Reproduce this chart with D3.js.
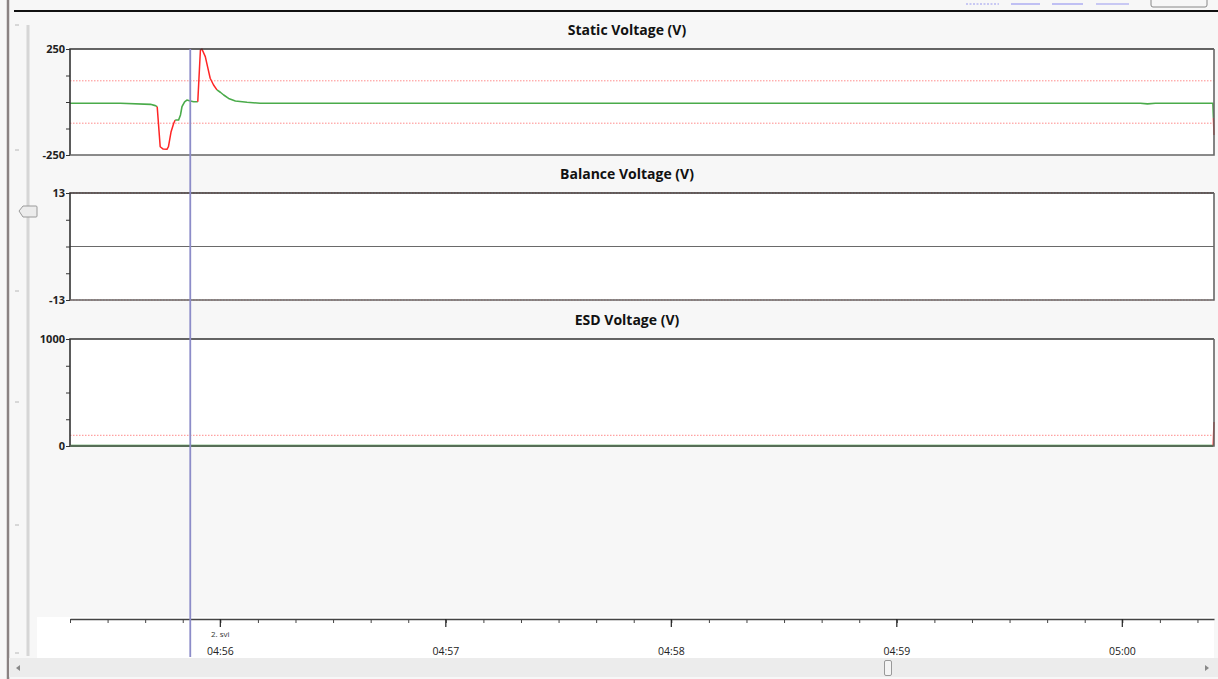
<!DOCTYPE html>
<html>
<head>
<meta charset="utf-8">
<script src="https://cdn.jsdelivr.net/npm/d3@7"></script>
<style>
  html, body { margin: 0; padding: 0; background: #f7f7f7; }
  svg { display: block; font-family: "Open Sans", "Noto Sans", sans-serif; }
</style>
</head>
<body>
<svg id="chart" width="1218" height="679"></svg>
<script>
// ---- data (seconds after 04:55:00) ----
const staticSeconds = [20, 33.4, 41.4, 42.7, 43.2, 44.0, 44.8, 45.8, 46.2, 46.9, 47.6, 48.0, 48.9, 49.4, 49.8,
  50.5, 51.1, 52.0, 52.9, 54.0, 54.7, 55.1, 56.0, 56.6, 57.3, 58.2, 59.1, 60, 60.9, 62.2, 64.0, 67.1, 70.6,
  120, 200, 260, 304.8, 306.7, 308.8, 324.1, 324.25, 324.4];
const staticValues = [-6, -6, -11, -17, -22, -211, -222, -223, -211, -140, -100, -85, -85, -61, -22,
  1, 9, 5, 1, 1, 245, 250, 214, 167, 112, 80, 57, 46, 33, 17, 5, -1, -6,
  -6, -6, -6, -6, -9, -6, -6, -75, -156];
const staticAlarm = [0, 0, 0, 0, 1, 1, 1, 1, 1, 1, 1, 0, 0, 0, 0,
  0, 0, 0, 0, 1, 1, 1, 1, 1, 1, 1, 0, 0, 0, 0, 0, 0, 0,
  0, 0, 0, 0, 0, 0, 0, 1, 1];

const balanceSeconds = [20, 324.4];
const balanceValues = [0, 0];
const balanceAlarm = [0, 0];

const esdSeconds = [20, 324.2, 324.4];
const esdValues = [0, 0, 225];
const esdAlarm = [0, 1, 1];

const cursorSeconds = 52;
const majorTimes = [60, 120, 180, 240, 300];
const timeTickLabels = ["04:56", "04:57", "04:58", "04:59", "05:00"];
const dateLabel = "2. svi";

const panelTitles = ["Static Voltage (V)", "Balance Voltage (V)", "ESD Voltage (V)"];
const panelDomains = [[-250, 250], [-13, 13], [0, 1000]];
const panelLimits = [[-100, 100], [-13, 13], [100]];

// ---- helpers ----
const base = new Date(2013, 4, 2, 4, 55, 0).getTime();
const toDate = s => new Date(base + s * 1000);

const svg = d3.select("#chart");
const left = 70, right = 1214;
const x = d3.scaleTime()
  .domain([toDate(20), toDate(324.4)])
  .range([left, right]);

// ---- window chrome ----
svg.append("rect").attr("x", 0).attr("y", 0).attr("width", 1218).attr("height", 679).attr("fill", "#f7f7f7");
svg.append("line").attr("x1", 8).attr("x2", 8).attr("y1", 0).attr("y2", 679)
  .attr("stroke", "#8a8282").attr("stroke-width", 2.5);
svg.append("line").attr("x1", 14).attr("x2", 1218).attr("y1", 11).attr("y2", 11)
  .attr("stroke", "#111").attr("stroke-width", 2);
// vertical zoom slider
svg.append("line").attr("x1", 28).attr("x2", 28).attr("y1", 25).attr("y2", 656)
  .attr("stroke", "#d6d6d6").attr("stroke-width", 3);
[25, 150, 291, 402, 525, 653].forEach(yy => {
  svg.append("line").attr("x1", 15).attr("x2", 19).attr("y1", yy).attr("y2", yy)
    .attr("stroke", "#b8b8b8").attr("stroke-width", 1);
});
svg.append("path")
  .attr("d", "M19,211 L23,206 L36,206 Q37,206 37,207 L37,216 Q37,217 36,217 L23,217 Z")
  .attr("fill", "#ececec").attr("stroke", "#9a9a9a").attr("stroke-width", 1);
// toolbar strip at the top right
const tb = svg.append("g").attr("stroke", "#9a9af0").attr("stroke-width", 1.2);
tb.append("line").attr("x1", 966).attr("x2", 999).attr("y1", 4).attr("y2", 4).attr("stroke-dasharray", "2,1.5");
tb.append("line").attr("x1", 1011).attr("x2", 1040).attr("y1", 4).attr("y2", 4);
tb.append("line").attr("x1", 1052).attr("x2", 1083).attr("y1", 4).attr("y2", 4);
tb.append("line").attr("x1", 1096).attr("x2", 1129).attr("y1", 4).attr("y2", 4);
svg.append("path").attr("d", "M1151,0 L1151,5 Q1151,7 1153,7 L1205,7 Q1207,7 1207,5 L1207,0")
  .attr("fill", "none").attr("stroke", "#888").attr("stroke-width", 1);

// ---- panels ----
const panels = [
  { top: 49, bottom: 155, sec: staticSeconds, val: staticValues, alarm: staticAlarm, normal: "#4aab4a", width: 1.6 },
  { top: 193, bottom: 300, sec: balanceSeconds, val: balanceValues, alarm: balanceAlarm, normal: "#6a6a6a", width: 1.2 },
  { top: 339, bottom: 446, sec: esdSeconds, val: esdValues, alarm: esdAlarm, normal: "#2f8a2f", width: 2.6 }
];

panels.forEach((p, i) => {
  const dom = panelDomains[i];
  const y = d3.scaleLinear().domain(dom).range([p.bottom, p.top]);
  const g = svg.append("g");

  g.append("text")
    .attr("x", 627).attr("y", p.top - 14)
    .attr("text-anchor", "middle").attr("font-size", 14).attr("font-weight", 700).attr("fill", "#111")
    .text(panelTitles[i]);

  g.append("rect").attr("x", left).attr("y", p.top).attr("width", right - left).attr("height", p.bottom - p.top)
    .attr("fill", "#fff");

  // limit lines
  panelLimits[i].forEach(v => {
    g.append("line").attr("x1", left).attr("x2", right).attr("y1", y(v)).attr("y2", y(v))
      .attr("stroke", "#ff7070").attr("stroke-width", 1).attr("stroke-dasharray", "1.5,1.5").attr("opacity", 0.8);
  });

  // series: each segment takes the colour of its starting point's alarm state
  const pts = p.sec.map((s, k) => ({ t: toDate(s), v: p.val[k], a: p.alarm[k] }));
  const clip = "clip" + i;
  svg.append("clipPath").attr("id", clip).append("rect")
    .attr("x", left).attr("y", p.top - 2).attr("width", right - left + 1).attr("height", p.bottom - p.top + 3);
  const line = d3.line().x(d => x(d.t)).y(d => y(d.v));
  const series = g.append("g").attr("clip-path", `url(#${clip})`);
  let start = 0;
  for (let k = 1; k <= pts.length - 1; k++) {
    if (k === pts.length - 1 || pts[k].a !== pts[start].a) {
      const seg = pts.slice(start, k + 1);
      series.append("path").datum(seg).attr("d", line).attr("fill", "none")
        .attr("stroke", pts[start].a ? "#ff2525" : p.normal)
        .attr("stroke-width", pts[start].a ? 1.5 : p.width)
        .attr("stroke-linejoin", "round");
      start = k;
    }
  }

  // frame
  g.append("path")
    .attr("d", `M${right},${p.top} L${left},${p.top} L${left},${p.bottom}`)
    .attr("fill", "none").attr("stroke", "#333").attr("stroke-width", 1.6);
  g.append("path")
    .attr("d", `M${left},${p.bottom} L${right},${p.bottom} L${right},${p.top}`)
    .attr("fill", "none").attr("stroke", "#666").attr("stroke-width", 1.6);

  // y axis: five ticks, labelled only at the ends
  const ticks = d3.range(5).map(k => dom[0] + (dom[1] - dom[0]) * k / 4);
  const axis = d3.axisLeft(y).tickValues(ticks).tickSize(4).tickSizeOuter(0)
    .tickFormat(v => (v === dom[0] || v === dom[1]) ? String(v) : "");
  const ag = g.append("g").attr("transform", `translate(${left},0)`).call(axis);
  ag.select(".domain").remove();
  ag.selectAll(".tick line").attr("stroke", "#333");
  ag.selectAll(".tick text").attr("font-size", 11).attr("font-weight", 700).attr("fill", "#222")
    .attr("font-family", "'Open Sans', sans-serif").attr("x", -5);
});

// ---- time axis ----
svg.append("rect").attr("x", 37).attr("y", 617).attr("width", right - 37).attr("height", 41).attr("fill", "#fff");
const minorTicks = d3.range(20, 325, 10).map(toDate);
const xAxis = d3.axisBottom(x).tickValues(minorTicks).tickSize(4).tickSizeOuter(0).tickFormat("");
const xg = svg.append("g").attr("transform", "translate(0,619)").call(xAxis);
xg.select(".domain").attr("stroke", "#444").attr("stroke-width", 1.5);
xg.selectAll(".tick line").attr("stroke", "#444");
majorTimes.forEach((s, k) => {
  svg.append("line").attr("x1", x(toDate(s))).attr("x2", x(toDate(s))).attr("y1", 619).attr("y2", 627)
    .attr("stroke", "#222").attr("stroke-width", 1.2);
  svg.append("text").attr("x", x(toDate(s))).attr("y", 655).attr("text-anchor", "middle")
    .attr("font-size", 10.5).attr("fill", "#222").text(timeTickLabels[k]);
});
svg.append("text").attr("x", x(toDate(majorTimes[0]))).attr("y", 637).attr("text-anchor", "middle")
  .attr("font-size", 8).attr("fill", "#333").text(dateLabel);

// ---- cursor ----
svg.append("line").attr("x1", x(toDate(cursorSeconds))).attr("x2", x(toDate(cursorSeconds)))
  .attr("y1", 49).attr("y2", 657).attr("stroke", "#8c8cc8").attr("stroke-width", 1.8);

// ---- horizontal scrollbar ----
svg.append("rect").attr("x", 9).attr("y", 658).attr("width", 1209).attr("height", 19).attr("fill", "#ececec");
svg.append("path").attr("d", "M20,665 L16,668 L20,671 Z").attr("fill", "#888");
svg.append("path").attr("d", "M1205,665 L1209,668 L1205,671 Z").attr("fill", "#888");
svg.append("rect").attr("x", 884.5).attr("y", 660.5).attr("width", 7).attr("height", 15).attr("rx", 1.5)
  .attr("fill", "#f4f4f4").attr("stroke", "#999");
</script>
</body>
</html>
